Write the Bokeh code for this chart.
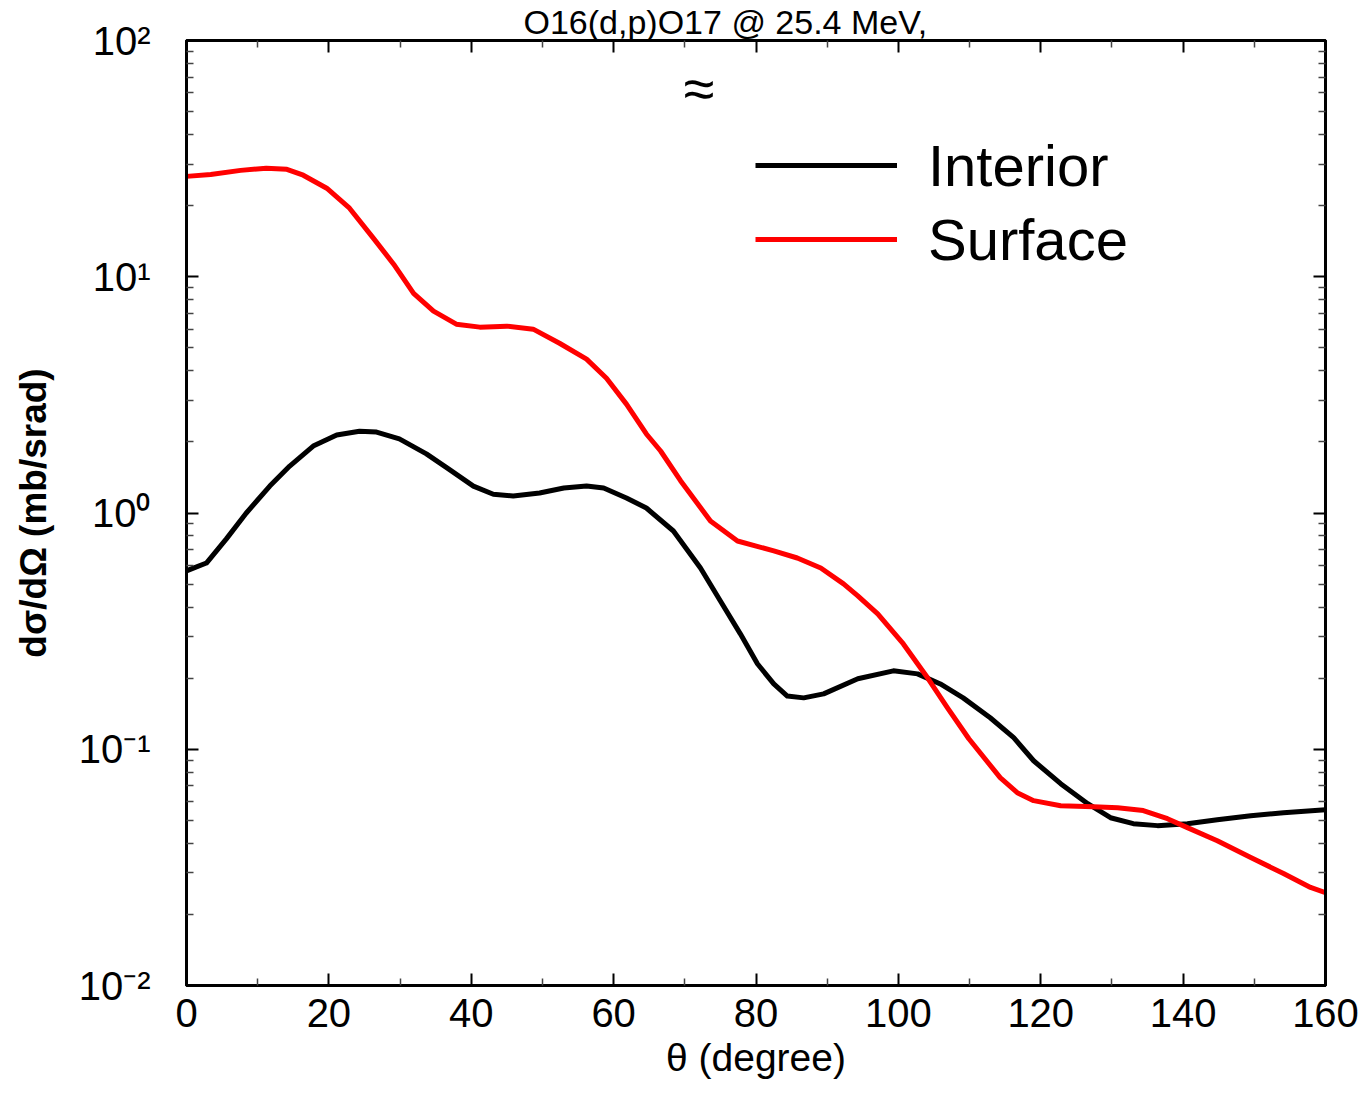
from bokeh.plotting import figure
from bokeh.models import (LinearAxis, LogAxis, FixedTicker, Label, Legend, LegendItem,
                          Range1d)
from bokeh.embed import file_html
from bokeh.resources import INLINE

# ---- data ----
interior_theta = [0, 2.8, 5.6, 8.4, 11.7, 14.5, 17.8, 21.1, 24.3, 26.7, 29.9, 33.7, 36.9,
                  40.3, 43.1, 45.9, 49.6, 53.0, 56.2, 58.6, 61.8, 64.6, 68.4, 72.2, 75.0,
                  77.8, 80.2, 82.5, 84.4, 86.7, 89.5, 94.3, 99.3, 102.7, 105.9, 109.1,
                  112.9, 116.2, 119.0, 122.8, 126.6, 129.8, 133.0, 136.4, 140.6, 144.8,
                  149.5, 154.1, 160.0]
interior_xs = [0.569, 0.614, 0.777, 1.00, 1.30, 1.58, 1.92, 2.14, 2.22, 2.20, 2.06, 1.78,
               1.53, 1.30, 1.20, 1.18, 1.215, 1.275, 1.30, 1.275, 1.157, 1.05, 0.839,
               0.585, 0.424, 0.308, 0.230, 0.189, 0.168, 0.165, 0.1716, 0.1987, 0.2147,
               0.2085, 0.189, 0.165, 0.1359, 0.1119, 0.0894, 0.0715, 0.0588, 0.0513,
               0.0484, 0.0475, 0.0484, 0.0503, 0.0523, 0.0539, 0.0555]

surface_theta = [0, 3.4, 7.6, 11.2, 14.1, 16.4, 19.7, 22.9, 26.3, 29.1, 31.9, 34.7, 37.9,
                 41.2, 45.0, 48.7, 52.4, 56.2, 59.0, 61.8, 64.6, 66.6, 69.4, 73.6, 77.4,
                 82.5, 85.8, 89.1, 92.3, 94.3, 97.1, 100.7, 104.1, 106.9, 109.9, 114.3,
                 116.7, 119.0, 122.8, 127.4, 130.8, 134.4, 137.8, 140.6, 144.8, 149.5,
                 154.1, 157.9, 160.0]
surface_xs = [26.6, 27.1, 28.2, 28.8, 28.5, 26.9, 23.7, 19.5, 14.5, 11.3, 8.51, 7.15, 6.30,
              6.12, 6.18, 6.00, 5.23, 4.48, 3.72, 2.89, 2.16, 1.83, 1.37, 0.925, 0.761,
              0.691, 0.645, 0.585, 0.501, 0.446, 0.374, 0.279, 0.2006, 0.1498, 0.1108,
              0.0758, 0.0655, 0.0606, 0.0577, 0.0571, 0.0566, 0.0550, 0.0508, 0.0466,
              0.0410, 0.0348, 0.0298, 0.0260, 0.0247]

x_major = [0, 20, 40, 60, 80, 100, 120, 140, 160]
x_minor = [10, 30, 50, 70, 90, 110, 130, 150]
y_major = [0.01, 0.1, 1, 10, 100]
y_labels = ["10\u207b\u00b2", "10\u207b\u00b9", "10\u2070", "10\u00b9", "10\u00b2"]
series_names = ["Interior", "Surface"]
series_colors = ["black", "#ff0000"]
title_text = "O16(d,p)O17 @ 25.4 MeV,"
approx_text = "\u2248"
approx_pos = (72.0, 62.7)

FONT = "Liberation Sans"

y_minor = [m * d for d in [0.01, 0.1, 1, 10] for m in range(2, 10)]

p = figure(width=1364, height=1104, output_backend="svg", toolbar_location=None,
           y_axis_type="log", x_range=Range1d(0, 160), y_range=Range1d(0.01, 100),
           min_border_left=186, min_border_right=39, min_border_top=39,
           min_border_bottom=119)
p.grid.visible = False
p.outline_line_color = "black"
p.outline_line_width = 3
p.background_fill_color = "white"
p.border_fill_color = "white"

p.title.text = title_text
p.title.text_font = FONT
p.title.text_font_size = "34px"
p.title.text_font_style = "normal"
p.title.text_color = "black"
p.title.text_line_height = 0.8
p.title.align = "left"
p.title.offset = 337
p.title.standoff = 0

r1 = p.line(interior_theta, interior_xs, line_color=series_colors[0], line_width=5,
            line_join="round")
r2 = p.line(surface_theta, surface_xs, line_color=series_colors[1], line_width=5,
            line_join="round")

xt = FixedTicker(ticks=x_major, minor_ticks=x_minor)
yt = FixedTicker(ticks=y_major, minor_ticks=y_minor)

def style(ax, show_labels, ticks):
    ax.axis_line_color = "black"
    ax.axis_line_width = 3
    ax.major_tick_in = 12
    ax.major_tick_out = 0
    ax.minor_tick_in = 7
    ax.minor_tick_out = 0
    ax.major_tick_line_width = 2
    ax.minor_tick_line_width = 1.5
    ax.major_tick_line_color = "black"
    ax.minor_tick_line_color = "#444444"
    ax.major_label_text_font = FONT
    ax.major_label_text_color = "black"
    if show_labels:
        ax.major_label_text_font_size = "40px"
    else:
        ax.major_label_text_font_size = "2px"
        ax.major_label_standoff = 0
        ax.major_label_overrides = {t: "" for t in ticks}

xa = p.xaxis[0]
xa.ticker = xt
style(xa, True, x_major)
xa.major_label_standoff = 13
xa.axis_label = "\u03b8 (degree)"
xa.axis_label_text_font = FONT
xa.axis_label_text_font_size = "39px"
xa.axis_label_text_font_style = "normal"
xa.axis_label_text_color = "black"
xa.axis_label_standoff = 6

ya = p.yaxis[0]
ya.ticker = yt
style(ya, True, y_major)
ya.major_label_overrides = {v: s for v, s in zip(y_major, y_labels)}
ya.major_label_standoff = 36
ya.axis_label = "d\u03c3/d\u03a9 (mb/srad)"
ya.axis_label_text_font = FONT
ya.axis_label_text_font_size = "37px"
ya.axis_label_text_font_style = "bold"
ya.axis_label_text_color = "black"
ya.axis_label_standoff = 22

top = LinearAxis(ticker=xt)
style(top, False, x_major)
p.add_layout(top, "above")
right = LogAxis(ticker=yt)
style(right, False, y_major)
p.add_layout(right, "right")

legend = Legend(items=[LegendItem(label=series_names[0], renderers=[r1]),
                       LegendItem(label=series_names[1], renderers=[r2])],
                location=(569, 709), padding=0, margin=0, spacing=0,
                glyph_width=142, glyph_height=74, label_height=74,
                label_standoff=31, label_text_font=FONT, label_text_color="black",
                label_text_font_size="58px", label_text_baseline="middle",
                border_line_color=None, background_fill_alpha=0)
p.add_layout(legend, "center")

p.add_layout(Label(x=approx_pos[0], y=approx_pos[1], text=approx_text,
                   text_font=FONT, text_font_size="56px", text_align="center",
                   text_baseline="middle", text_color="black"))

open("out.html", "w").write(file_html(p, INLINE))
